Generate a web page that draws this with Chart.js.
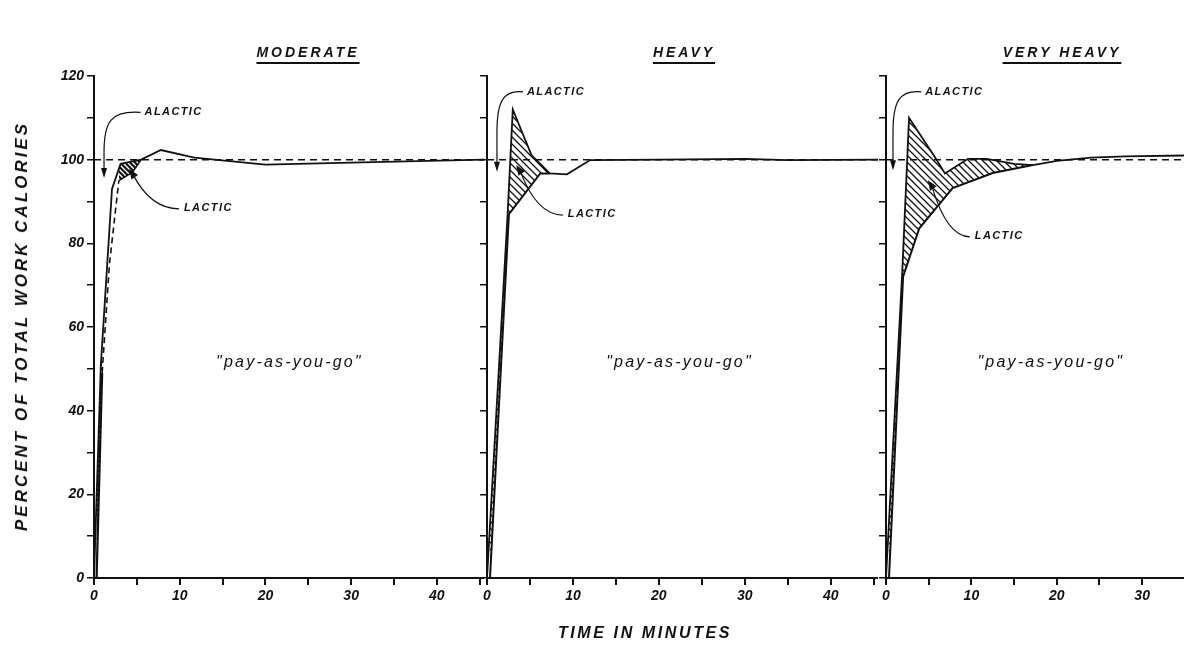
<!DOCTYPE html>
<html>
<head>
<meta charset="utf-8">
<script src="https://cdn.jsdelivr.net/npm/chart.js@4/dist/chart.umd.min.js"></script>
<style>
  body { margin: 0; background: #fff; width: 1184px; height: 649px; overflow: hidden; position: relative; font-family: "Liberation Sans", Arial, sans-serif; }
  canvas { position: absolute; top: 0; }
  .lbl { position: absolute; font-style: italic; font-weight: bold; color: #111; white-space: nowrap; }
  .title { font-size: 14px; letter-spacing: 3px; text-decoration: underline; text-underline-offset: 5px; text-decoration-thickness: 2px; transform: translateX(-50%); }
</style>
</head>
<body>
<canvas id="c1" width="484" height="649" style="left:0"></canvas>
<canvas id="c2" width="398" height="649" style="left:480px"></canvas>
<canvas id="c3" width="306" height="649" style="left:878px"></canvas>

<div class="lbl title" style="left:308px;top:44px">MODERATE</div>
<div class="lbl title" style="left:684px;top:44px">HEAVY</div>
<div class="lbl title" style="left:1062px;top:44px">VERY HEAVY</div>
<div class="lbl" style="left:22px;top:326px;font-size:17px;letter-spacing:3px;transform:translate(-50%,-50%) rotate(-90deg)">PERCENT OF TOTAL WORK CALORIES</div>
<div class="lbl" style="left:645px;top:624px;font-size:16px;letter-spacing:2.6px;transform:translateX(-50%)">TIME IN MINUTES</div>

<script>
// panel names
const panels = ["MODERATE", "HEAVY", "VERY HEAVY"];

// the 100 % requirement line
const requirement = 100;

// moderate work
const modTotalX = [0, 0.8, 2.1, 3.1, 5.5, 7.8, 11.7, 20, 30, 45.5];
const modTotalY = [0, 51, 93, 99, 100, 102.3, 100.5, 98.8, 99.3, 100];
const modAerobicBandX = [0.3, 0.95];
const modAerobicBandY = [0, 49];
const modAerobicDashX = [0.95, 1.8, 2.9];
const modAerobicDashY = [49, 75, 95];
const modLacticX = [2.9, 4.5, 5.5];
const modLacticY = [95, 97, 100];

// heavy work
const heavyTotalX = [0, 2.4, 3.0, 5.2, 7.3, 9.3, 12, 20, 30, 35, 45.5];
const heavyTotalY = [0, 87, 112, 101, 96.7, 96.5, 99.9, 100, 100.2, 99.9, 100];
const heavyAerobicX = [0.35, 2.55, 6.2, 7.3];
const heavyAerobicY = [0, 87, 96.7, 96.7];

// very heavy work
const vheavyTotalX = [0, 1.9, 2.7, 5.7, 6.9, 9.6, 11.8, 15, 17.2, 20, 24, 28, 34.9];
const vheavyTotalY = [0, 73, 110, 100.7, 96.7, 100.2, 100.2, 99, 98.7, 99.7, 100.5, 100.8, 101];
const vheavyAerobicX = [0.35, 2.0, 3.9, 7.8, 12.5, 17.2];
const vheavyAerobicY = [0, 72, 83.6, 93.2, 96.8, 98.7];

// tick labels
const xTickLabels = [0, 10, 20, 30, 40];
const yTickLabels = [0, 20, 40, 60, 80, 100, 120];

const pts = (xs, ys) => xs.map((x, i) => ({ x, y: ys[i] }));

function hatch(canvasId, size, lw, bg, fg) {
  const c = document.createElement("canvas");
  c.width = c.height = size;
  const g = c.getContext("2d");
  if (bg) { g.fillStyle = bg; g.fillRect(0, 0, size, size); }
  g.strokeStyle = fg;
  g.lineWidth = lw;
  g.beginPath();
  g.moveTo(-1, -1); g.lineTo(size + 1, size + 1);
  g.moveTo(-1, size - 1); g.lineTo(1, size + 1);
  g.moveTo(size - 1, -1); g.lineTo(size + 1, 1);
  g.stroke();
  return document.getElementById(canvasId).getContext("2d").createPattern(c, "repeat");
}

const notesPlugin = {
  id: "notes",
  afterDatasetsDraw(chart, args, o) {
    const { ctx } = chart;
    const X = chart.scales.x, Y = chart.scales.y;
    const px = (p) => [X.getPixelForValue(p[0]), Y.getPixelForValue(p[1])];
    ctx.save();
    ctx.fillStyle = "#111";
    ctx.strokeStyle = "#111";
    ctx.textBaseline = "middle";
    ctx.font = 'italic bold 11px "Liberation Sans"';
    if ("letterSpacing" in ctx) ctx.letterSpacing = "1.4px";

    // ALACTIC label with curved arrow down
    let [ax, ay] = px(o.alactic);
    let [tx, ty] = px(o.alacticTip);
    ctx.textAlign = "left";
    ctx.fillText("ALACTIC", ax, ay);
    ctx.lineWidth = 1.2;
    ctx.beginPath();
    ctx.moveTo(ax - 4, ay);
    ctx.bezierCurveTo(tx + 6, ay - 2, tx, ay + 10, tx, ay + 40);
    ctx.lineTo(tx, ty - 8);
    ctx.stroke();
    ctx.beginPath();
    ctx.moveTo(tx - 3, ty - 10);
    ctx.lineTo(tx + 3, ty - 10);
    ctx.lineTo(tx, ty);
    ctx.closePath();
    ctx.fill();

    // LACTIC label with leader and arrowhead
    let [lx, ly] = px(o.lactic);
    let [hx, hy] = px(o.lacticTip);
    ctx.fillText("LACTIC", lx, ly);
    const sx = hx + 4, sy = hy + 6;
    ctx.beginPath();
    ctx.moveTo(sx, sy);
    ctx.quadraticCurveTo(sx + (lx - sx) * 0.35, ly + 1, lx - 5, ly + 1);
    ctx.stroke();
    const ang = Math.atan2(hy - sy, hx - sx);
    ctx.beginPath();
    ctx.moveTo(hx, hy);
    ctx.lineTo(hx - 10 * Math.cos(ang) + 4 * Math.sin(ang), hy - 10 * Math.sin(ang) - 4 * Math.cos(ang));
    ctx.lineTo(hx - 10 * Math.cos(ang) - 4 * Math.sin(ang), hy - 10 * Math.sin(ang) + 4 * Math.cos(ang));
    ctx.closePath();
    ctx.fill();

    // "pay-as-you-go"
    const [qx, qy] = px(o.pay);
    ctx.font = 'italic 16px "Liberation Sans"';
    if ("letterSpacing" in ctx) ctx.letterSpacing = "2.2px";
    ctx.textAlign = "center";
    ctx.fillText('"pay-as-you-go"', qx, qy);
    ctx.restore();
  }
};

function makeChart(id, xMax, yWidth, showYLabels, datasets, notes) {
  const tickFont = { family: "Liberation Sans", size: 14, style: "italic", weight: "bold" };
  return new Chart(document.getElementById(id), {
    type: "line",
    data: { datasets },
    options: {
      responsive: false,
      animation: false,
      layout: { padding: { top: 76, right: 0, bottom: 0, left: 0 } },
      plugins: { legend: { display: false }, tooltip: { enabled: false }, notes },
      elements: { point: { radius: 0 }, line: { tension: 0 } },
      scales: {
        x: {
          type: "linear", min: 0, max: xMax,
          afterFit: (s) => { s.height = 71; },
          border: { display: true, color: "#111", width: 2 },
          grid: { drawOnChartArea: false, drawTicks: true, tickLength: 7, color: "#111", lineWidth: 2 },
          ticks: {
            stepSize: 5, includeBounds: false, color: "#111", font: tickFont, padding: 3, maxRotation: 0, autoSkip: false,
            callback: (v) => xTickLabels.includes(v) ? String(v) : (v % 5 === 0 ? "" : null)
          }
        },
        y: {
          min: 0, max: 120,
          afterFit: (s) => { s.width = yWidth; },
          border: { display: true, color: "#111", width: 2 },
          grid: { drawOnChartArea: false, drawTicks: true, tickLength: 7, color: "#111", lineWidth: 1.5 },
          ticks: {
            stepSize: 10, color: "#111", font: tickFont, padding: 3,
            callback: (v) => showYLabels && yTickLabels.includes(v) ? String(v) : ""
          }
        }
      }
    },
    plugins: [notesPlugin]
  });
}

const refLine = (xMax) => ({
  data: pts([0, xMax], [requirement, requirement]),
  borderColor: "#111", borderWidth: 1.5, borderDash: [7, 5], fill: false, order: 5
});

makeChart("c1", 45.5, 94, true, [
  refLine(45.5),
  { data: pts(modTotalX, modTotalY), borderColor: "#111", borderWidth: 1.8, fill: false },
  { data: pts(modAerobicBandX, modAerobicBandY), borderColor: "#111", borderWidth: 2.2, fill: 1, backgroundColor: hatch("c1", 5, 1.2, "#111", "#fff") },
  { data: pts(modAerobicDashX, modAerobicDashY), borderColor: "#111", borderWidth: 1.6, borderDash: [6, 4], fill: false },
  { data: pts(modLacticX, modLacticY), borderColor: "#111", borderWidth: 1.5, fill: 1, backgroundColor: hatch("c1", 5, 1.4, "#111", "#fff") }
], { alactic: [5.9, 111.3], alacticTip: [1.17, 95.6], lactic: [10.5, 88.5], lacticTip: [4.1, 97.8], pay: [22.8, 51.6] });

makeChart("c2", 45.5, 7, false, [
  refLine(45.5),
  { data: pts(heavyTotalX, heavyTotalY), borderColor: "#111", borderWidth: 1.8, fill: false },
  { data: pts(heavyAerobicX, heavyAerobicY), borderColor: "#111", borderWidth: 2, fill: 1, backgroundColor: hatch("c2", 7, 1.3, null, "#111") }
], { alactic: [4.65, 116.2], alacticTip: [1.16, 97.1], lactic: [9.4, 87], lacticTip: [3.4, 98.7], pay: [22.4, 51.6] });

makeChart("c3", 34.9, 8, false, [
  refLine(34.9),
  { data: pts(vheavyTotalX, vheavyTotalY), borderColor: "#111", borderWidth: 1.8, fill: false },
  { data: pts(vheavyAerobicX, vheavyAerobicY), borderColor: "#111", borderWidth: 2, fill: 1, backgroundColor: hatch("c3", 7, 1.3, null, "#111") }
], { alactic: [4.6, 116.2], alacticTip: [0.82, 97.5], lactic: [10.4, 81.8], lacticTip: [4.9, 95.1], pay: [19.3, 51.6] });
</script>
</body>
</html>
